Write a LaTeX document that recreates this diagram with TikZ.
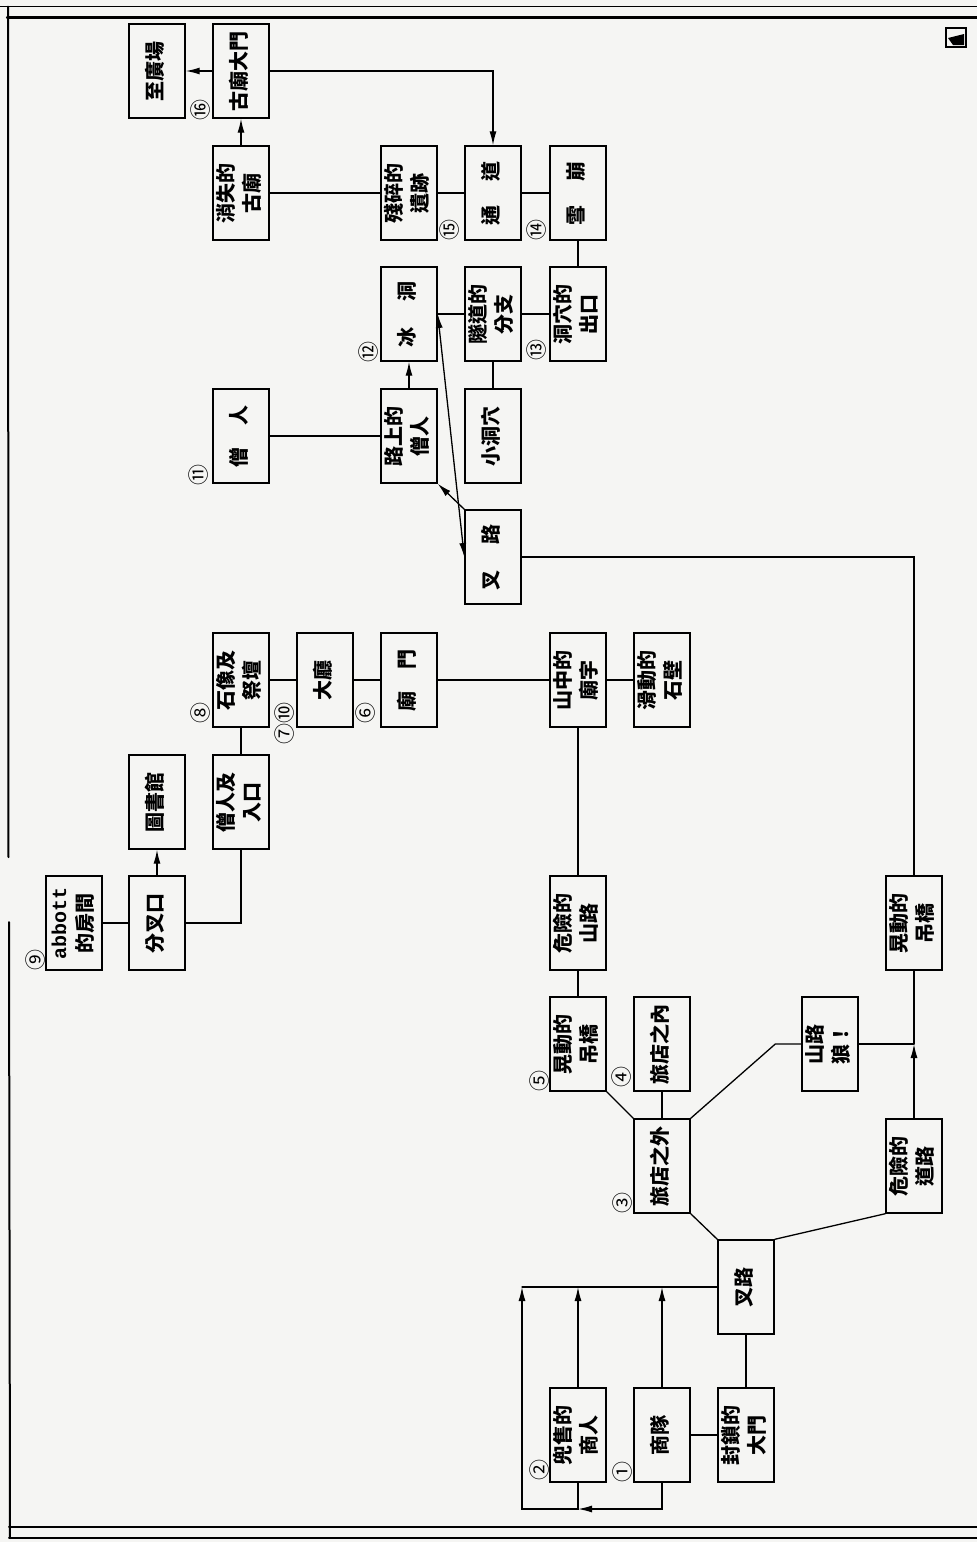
\documentclass[tikz,border=0pt]{standalone}
\usepackage{fontspec}
\usepackage{graphicx}
\usetikzlibrary{arrows.meta}
\newfontfamily\cjk{Noto Sans CJK TC}
\newfontfamily\mono{Liberation Mono}
\definecolor{paper}{RGB}{245,245,243}
% upright text turned a quarter left
\newcommand{\vt}[1]{\rotatebox{90}{\begin{tabular}{@{}c@{}}#1\end{tabular}}}

\tikzset{
  room/.style={draw,line width=1.4pt,minimum width=56pt,minimum height=94pt,
    inner sep=0pt,font=\cjk\bfseries\fontsize{20}{26}\selectfont},
  num/.style={inner sep=0pt,rotate=90,font=\cjk\fontsize{21}{21}\selectfont},
  link/.style={line width=1.3pt},
  tip/.tip={Latex[length=14pt,width=7pt]},
  arr/.style={link,-tip},
}

\begin{document}
\begin{tikzpicture}[x=1pt,y=-1pt,line cap=round]
\useasboundingbox (0,0) rectangle (977,1542);
\fill[paper] (0,0) rectangle (977,1542);
% page frame
\draw[line width=1.6pt] (0,6.5) -- (977,6.5);
\draw[line width=2.2pt] (7,17.5) -- (977,17.5);
\draw[line width=2pt] (8,6.5) -- (8.5,857) (9,922) -- (10,1538);
\draw[line width=2pt] (9,1527) -- (977,1527) (9,1537.5) -- (977,1537.5);
\draw[line width=1.4pt] (946,28) rectangle (966,47);
\fill (948,38) -- (964,34) -- (964,45) -- (953,45) -- cycle;

% rooms
\node[room] (plaza) at (157,71) {\vt{至廣場}};
\node[room] (gate) at (241,71) {\vt{古廟大門}};
\node[room] (lost) at (241,193) {\vt{消失的\\古廟}};
\node[room] (ruins) at (409,193) {\vt{殘碎的\\遺跡}};
\node[room] (passage) at (493,193) {\vt{通\hspace{1.2em}道}};
\node[room] (avalanche) at (578,193) {\vt{雪\hspace{1.2em}崩}};
\node[room] (ice) at (409,314) {\vt{冰\hspace{1.3em}洞}};
\node[room] (branch) at (493,314) {\vt{隧道的\\分支}};
\node[room] (exit) at (578,314) {\vt{洞穴的\\出口}};
\node[room] (monk) at (241,436) {\vt{僧\hspace{1.1em}人}};
\node[room] (roadmonk) at (409,436) {\vt{路上的\\僧人}};
\node[room] (cave) at (493,436) {\vt{小洞穴}};
\node[room] (forkA) at (493,557) {\vt{叉\hspace{1.3em}路}};
\node[room] (statue) at (241,680) {\vt{石像及\\祭壇}};
\node[room] (hall) at (325,680) {\vt{大廳}};
\node[room] (templegate) at (409,680) {\vt{廟\hspace{1.1em}門}};
\node[room] (temple) at (578,680) {\vt{山中的\\廟宇}};
\node[room] (wall) at (662,680) {\vt{滑動的\\石壁}};
\node[room] (library) at (157,802) {\vt{圖書館}};
\node[room] (entry) at (241,802) {\vt{僧人及\\入口}};
\node[room] (abbott) at (74,923) {\vt{{\mono\bfseries abbott}\\的房間}};
\node[room] (junction) at (157,923) {\vt{分叉口}};
\node[room] (mpath) at (578,923) {\vt{危險的\\山路}};
\node[room] (bridgeB) at (914,923) {\vt{晃動的\\吊橋}};
\node[room] (bridgeA) at (578,1044) {\vt{晃動的\\吊橋}};
\node[room] (innin) at (662,1044) {\vt{旅店之內}};
\node[room] (wolf) at (830,1044) {\vt{山路\\狼！}};
\node[room] (innout) at (662,1166) {\vt{旅店之外}};
\node[room] (droad) at (914,1166) {\vt{危險的\\道路}};
\node[room] (forkB) at (746,1287) {\vt{叉路}};
\node[room] (merchant) at (578,1435) {\vt{兜售的\\商人}};
\node[room] (caravan) at (662,1435) {\vt{商隊}};
\node[room] (sealed) at (746,1435) {\vt{封鎖的\\大門}};

% step numbers
\node[num] (n1) at (623,1472) {①};
\node[num] (n2) at (540,1470) {②};
\node[num] (n3) at (623,1203) {③};
\node[num] (n4) at (622,1077) {④};
\node[num] (n5) at (540,1081) {⑤};
\node[num] (n6) at (366,713) {⑥};
\node[num] (n7) at (285,723) {⑦⑩};
\node[num] (n8) at (201,713) {⑧};
\node[num] (n9) at (36,960) {⑨};
\node[num] (n11) at (199,475) {⑪};
\node[num] (n12) at (369,352) {⑫};
\node[num] (n13) at (537,350) {⑬};
\node[num] (n14) at (537,230) {⑭};
\node[num] (n15) at (450,230) {⑮};
\node[num] (n16) at (201,110) {⑯};

% links
\coordinate (tl) at (522,1287);
\coordinate (bl) at (522,1509);
\draw[arr] (gate) -- (plaza);
\draw[arr] (lost) -- (gate);
\draw[arr] (gate.east) -| (passage.north);
\draw[link] (lost) -- (ruins) -- (passage) -- (avalanche);
\draw[link] (avalanche) -- (exit);
\draw[link] (exit) -- (branch) -- (ice);
\draw[link] (branch) -- (cave);
\draw[arr] (roadmonk) -- (ice);
\draw[link] (monk) -- (roadmonk);
\draw[arr] (forkA.north west) -- (roadmonk.south east);
\draw[link,tip-tip] (ice.east) -- (forkA.west);
\draw[link] (forkA.east) -| (bridgeB.north);
\draw[link] (bridgeB) -- (bridgeB |- wolf.east);
\draw[link] (wolf.east) -- (wolf.east -| bridgeB);
\draw[arr] (droad) -- (droad |- wolf.east);
\draw[link] (wolf.west) -- ++(-26,0) -- (innout.north east);
\draw[link] (innout) -- (innin);
\draw[link] (bridgeA.south east) -- (innout.north west);
\draw[link] (temple) -- (mpath) -- (bridgeA);
\draw[link] (templegate) -- (temple) -- (wall);
\draw[link] (statue) -- (hall) -- (templegate);
\draw[link] (statue) -- (entry);
\draw[link] (entry.south) |- (junction.east);
\draw[arr] (junction) -- (library);
\draw[link] (abbott) -- (junction);
\draw[link] (innout.south east) -- (forkB.north west);
\draw[link] (forkB.north east) -- (droad.south west);
\draw[link] (forkB) -- (sealed);
\draw[link] (caravan) -- (sealed);
\draw[link] (forkB.west) -- (tl);
\draw[arr] (merchant) -- (merchant |- tl);
\draw[arr] (caravan) -- (caravan |- tl);
\draw[arr] (caravan.south) -- (caravan.south |- bl) -- (merchant.south |- bl);
\draw[arr] (merchant.south) -- (merchant.south |- bl) -- (bl) -- (tl);
\end{tikzpicture}
\end{document}
